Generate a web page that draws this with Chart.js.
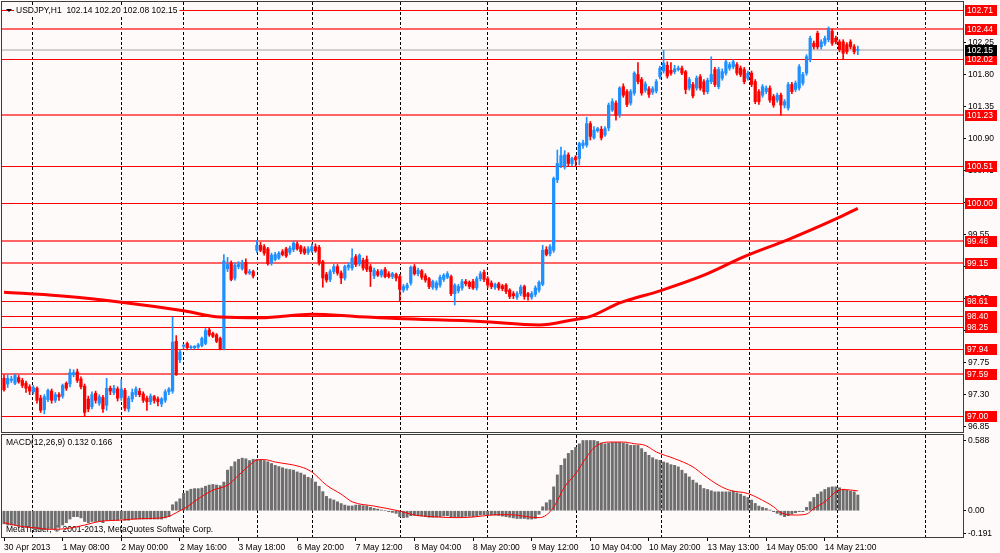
<!DOCTYPE html>
<html>
<head>
<meta charset="utf-8">
<title>USDJPY,H1</title>
<script src="https://cdn.jsdelivr.net/npm/chart.js@4.4.1/dist/chart.umd.min.js"></script>
<style>
  html, body { margin: 0; padding: 0; background: #fffafa; }
  #wrap { position: relative; width: 1000px; height: 553px; overflow: hidden; background: #fffafa; }
  canvas { position: absolute; left: 0; }
  #main { top: 0; }
  #macd { top: 434px; }
</style>
</head>
<body>
<div id="wrap">
  <canvas id="main" width="1000" height="434"></canvas>
  <canvas id="macd" width="1000" height="119"></canvas>
</div>
<script>
// USDJPY H1 bars, 30 Apr 2013 .. 14 May 2013
var opens = [
  97.53,97.45,97.50,97.46,97.54,97.50,97.46,97.41,97.34,97.39,
  97.25,97.09,97.23,97.35,97.22,97.30,97.28,97.46,97.45,97.58,
  97.62,97.52,97.42,97.24,97.13,97.32,97.18,97.26,97.15,97.39,
  97.33,97.38,97.26,97.36,97.10,97.24,97.30,97.35,97.31,97.25,
  97.20,97.27,97.24,97.17,97.22,97.34,97.35,98.05,97.79,97.98,
  98.02,97.96,97.96,97.97,97.99,98.02,98.21,98.16,98.14,98.09,
  97.95,99.07,99.15,98.94,99.10,99.07,99.16,99.01,99.03,99.33,
  99.40,99.38,99.35,99.15,99.20,99.22,99.31,99.35,99.30,99.34,
  99.42,99.38,99.35,99.30,99.32,99.38,99.37,99.17,98.99,98.92,
  99.03,99.10,99.01,98.94,99.09,99.08,99.24,99.14,99.19,99.20,
  99.10,98.97,99.03,98.98,99.06,99.00,98.96,98.99,98.96,98.77,
  98.80,98.87,99.10,99.00,99.04,98.97,98.93,98.81,98.80,98.84,
  98.92,98.95,98.96,98.72,98.76,98.80,98.89,98.88,98.89,98.80,
  98.93,99.02,98.93,98.87,98.81,98.86,98.83,98.84,98.77,98.72,
  98.67,98.72,98.82,98.72,98.67,98.71,98.77,98.85,99.34,99.28,
  99.33,100.32,100.52,100.50,100.67,100.55,100.64,100.62,100.80,100.81,
  101.11,100.91,101.01,101.03,100.95,101.05,101.30,101.40,101.24,101.63,
  101.56,101.40,101.54,101.80,101.73,101.58,101.60,101.55,101.57,101.77,
  101.85,101.93,101.86,101.84,101.87,101.89,101.84,101.61,101.66,101.61,
  101.77,101.70,101.56,101.70,101.87,101.63,101.75,101.82,101.89,101.91,
  101.94,101.89,101.87,101.75,101.82,101.70,101.56,101.51,101.56,101.61,
  101.49,101.44,101.51,101.37,101.33,101.66,101.59,101.61,101.68,101.82,
  102.01,102.24,102.38,102.19,102.24,102.29,102.41,102.31,102.26,102.26,
  102.22,102.26,102.19,102.14
];
var highs = [
  97.58,97.58,97.56,97.59,97.57,97.53,97.49,97.44,97.43,97.41,
  97.29,97.30,97.38,97.38,97.33,97.33,97.45,97.48,97.66,97.65,
  97.66,97.55,97.45,97.28,97.34,97.35,97.30,97.29,97.53,97.42,
  97.43,97.41,97.51,97.39,97.28,97.38,97.41,97.39,97.34,97.28,
  97.31,97.29,97.27,97.26,97.37,97.40,98.39,98.13,97.93,98.01,
  98.04,97.99,97.99,98.02,98.11,98.23,98.24,98.18,98.16,98.11,
  99.27,99.23,99.18,99.15,99.17,99.19,99.21,99.06,99.05,99.47,
  99.44,99.41,99.37,99.29,99.30,99.31,99.34,99.37,99.39,99.46,
  99.45,99.40,99.38,99.38,99.42,99.42,99.40,99.19,99.02,99.06,
  99.13,99.13,99.04,99.12,99.15,99.35,99.27,99.28,99.22,99.25,
  99.13,99.08,99.06,99.06,99.09,99.03,99.02,99.01,98.99,98.85,
  98.87,99.11,99.13,99.08,99.06,99.00,98.95,98.91,98.90,98.98,
  99.00,99.03,98.98,98.86,98.85,98.92,98.92,98.90,98.92,98.96,
  99.03,99.05,98.96,98.90,98.87,98.88,98.85,98.86,98.79,98.75,
  98.75,98.84,98.84,98.74,98.75,98.83,98.90,99.40,99.38,99.41,
  100.36,100.74,100.78,100.73,100.70,100.64,100.66,100.85,100.88,101.20,
  101.14,101.07,101.06,101.07,101.07,101.40,101.46,101.43,101.63,101.67,
  101.59,101.59,101.84,101.97,101.76,101.70,101.63,101.63,101.73,101.92,
  102.14,101.98,101.97,101.93,101.92,101.92,101.86,101.76,101.69,101.78,
  101.80,101.73,101.75,102.05,101.90,101.90,101.88,102.00,101.97,102.01,
  101.97,101.92,101.90,101.85,101.85,101.73,101.59,101.66,101.64,101.64,
  101.52,101.54,101.54,101.45,101.69,101.69,101.71,101.94,101.83,102.08,
  102.34,102.27,102.41,102.29,102.34,102.47,102.44,102.34,102.29,102.29,
  102.25,102.29,102.22,102.20
];
var lows = [
  97.35,97.40,97.47,97.44,97.46,97.40,97.33,97.30,97.31,97.18,
  97.05,97.03,97.20,97.18,97.19,97.22,97.25,97.36,97.41,97.55,
  97.47,97.38,96.99,97.06,97.10,97.18,97.15,97.05,97.08,97.30,
  97.30,97.21,97.22,97.07,97.06,97.20,97.27,97.27,97.19,97.08,
  97.16,97.18,97.14,97.13,97.19,97.30,97.32,97.57,97.75,97.95,
  97.93,97.94,97.94,97.95,97.97,98.00,98.12,98.10,98.03,97.93,
  97.93,99.03,98.90,98.91,99.07,99.05,98.99,98.99,98.94,99.30,
  99.31,99.26,99.12,99.12,99.18,99.20,99.25,99.23,99.27,99.31,
  99.33,99.28,99.27,99.27,99.30,99.30,99.12,98.81,98.88,98.89,
  99.00,98.98,98.86,98.91,99.05,99.05,99.10,99.11,99.05,99.03,
  98.82,98.93,98.96,98.95,98.94,98.94,98.93,98.90,98.61,98.74,
  98.77,98.84,98.98,98.97,98.92,98.88,98.79,98.78,98.77,98.81,
  98.89,98.93,98.69,98.56,98.73,98.77,98.83,98.79,98.78,98.77,
  98.90,98.89,98.80,98.79,98.78,98.77,98.76,98.72,98.65,98.65,
  98.64,98.69,98.64,98.63,98.64,98.68,98.74,98.83,99.25,99.25,
  99.30,100.28,100.49,100.47,100.51,100.52,100.51,100.53,100.76,100.78,
  100.88,100.89,100.99,100.88,100.93,101.01,101.28,101.16,101.20,101.48,
  101.35,101.37,101.51,101.67,101.51,101.55,101.48,101.52,101.54,101.74,
  101.82,101.75,101.79,101.81,101.85,101.80,101.53,101.58,101.47,101.58,
  101.58,101.52,101.53,101.67,101.63,101.60,101.72,101.79,101.86,101.88,
  101.79,101.77,101.67,101.72,101.63,101.39,101.38,101.48,101.53,101.41,
  101.34,101.41,101.23,101.33,101.30,101.53,101.56,101.58,101.65,101.79,
  101.98,102.16,102.16,102.16,102.21,102.26,102.21,102.23,102.12,102.02,
  102.09,102.16,102.09,102.08
];
var closes = [
  97.37,97.53,97.52,97.57,97.48,97.43,97.39,97.35,97.40,97.22,
  97.08,97.27,97.36,97.22,97.30,97.27,97.43,97.39,97.61,97.61,
  97.50,97.41,97.05,97.10,97.30,97.22,97.27,97.10,97.39,97.35,
  97.39,97.25,97.38,97.11,97.25,97.33,97.38,97.30,97.22,97.20,
  97.28,97.22,97.20,97.24,97.34,97.38,98.04,97.58,97.90,97.99,
  97.96,97.97,97.98,98.00,98.09,98.20,98.14,98.12,98.05,97.94,
  99.18,99.13,98.92,99.12,99.13,99.15,99.01,99.03,98.97,99.40,
  99.33,99.29,99.14,99.26,99.27,99.29,99.27,99.25,99.36,99.43,
  99.35,99.31,99.29,99.35,99.38,99.32,99.15,98.94,98.91,99.03,
  99.10,99.01,98.94,99.10,99.12,99.22,99.13,99.26,99.08,99.06,
  99.03,99.05,98.98,99.04,98.96,98.96,99.00,98.94,98.78,98.82,
  98.84,99.09,99.00,99.05,98.95,98.91,98.82,98.89,98.87,98.95,
  98.98,99.00,98.72,98.84,98.82,98.89,98.86,98.82,98.80,98.93,
  99.00,98.92,98.84,98.82,98.85,98.80,98.79,98.75,98.68,98.69,
  98.72,98.81,98.68,98.68,98.72,98.80,98.88,99.33,99.27,99.38,
  100.34,100.55,100.66,100.67,100.55,100.62,100.60,100.83,100.84,101.11,
  100.93,101.02,101.04,100.91,101.04,101.37,101.42,101.23,101.61,101.51,
  101.38,101.56,101.82,101.70,101.54,101.67,101.52,101.60,101.70,101.89,
  101.96,101.78,101.82,101.88,101.89,101.82,101.59,101.73,101.50,101.75,
  101.61,101.56,101.72,101.80,101.66,101.87,101.84,101.98,101.94,101.98,
  101.82,101.80,101.70,101.82,101.66,101.42,101.42,101.63,101.61,101.44,
  101.37,101.51,101.37,101.42,101.66,101.56,101.68,101.91,101.80,102.05,
  102.31,102.19,102.19,102.26,102.31,102.45,102.24,102.26,102.15,102.10,
  102.12,102.19,102.12,102.15
];

// moving average (thick red line), read at a few bars
var maIdx  = [0, 15, 32, 49, 59, 70, 84, 96, 107, 130, 146, 155, 160, 168, 179, 191, 202, 214, 227, 233];
var maVals = [98.74, 98.69, 98.60, 98.48, 98.39, 98.38, 98.43, 98.40, 98.37, 98.33, 98.28, 98.35, 98.40, 98.59, 98.76, 98.98, 99.24, 99.48, 99.77, 99.92];

// MACD(12,26,9) histogram, one value per bar
var macdHist = [
  -0.11,-0.12,-0.12,-0.12,-0.13,-0.13,-0.14,-0.14,-0.15,-0.15,
  -0.16,-0.16,-0.15,-0.15,-0.15,-0.14,-0.12,-0.10,-0.07,-0.05,
  -0.05,-0.06,-0.09,-0.10,-0.09,-0.09,-0.09,-0.10,-0.08,-0.08,
  -0.08,-0.08,-0.07,-0.08,-0.08,-0.07,-0.07,-0.07,-0.07,-0.07,
  -0.07,-0.07,-0.07,-0.07,-0.06,-0.05,0.05,0.075,0.10,0.145,
  0.165,0.18,0.185,0.185,0.19,0.205,0.215,0.22,0.215,0.21,
  0.24,0.34,0.37,0.41,0.43,0.44,0.435,0.42,0.43,0.43,
  0.43,0.42,0.41,0.395,0.38,0.37,0.36,0.35,0.345,0.34,
  0.325,0.315,0.30,0.28,0.27,0.24,0.205,0.16,0.12,0.10,
  0.09,0.075,0.06,0.047,0.04,0.04,0.047,0.047,0.042,0.04,
  0.028,0.02,0.014,0.006,0.0,-0.008,-0.014,-0.022,-0.05,-0.058,
  -0.055,-0.042,-0.039,-0.042,-0.044,-0.05,-0.055,-0.055,-0.053,-0.05,
  -0.044,-0.042,-0.05,-0.055,-0.053,-0.05,-0.047,-0.047,-0.05,-0.044,
  -0.036,-0.033,-0.033,-0.036,-0.036,-0.04,-0.045,-0.05,-0.055,-0.06,
  -0.065,-0.065,-0.065,-0.07,-0.07,-0.065,-0.03,0.033,0.067,0.09,
  0.20,0.30,0.38,0.435,0.48,0.505,0.53,0.56,0.588,0.588,
  0.588,0.588,0.58,0.567,0.56,0.567,0.572,0.572,0.572,0.567,
  0.56,0.547,0.547,0.547,0.52,0.49,0.464,0.444,0.428,0.422,
  0.408,0.40,0.386,0.38,0.367,0.339,0.311,0.283,0.256,0.233,
  0.214,0.186,0.178,0.167,0.158,0.158,0.158,0.158,0.158,0.164,
  0.15,0.139,0.122,0.111,0.089,0.061,0.039,0.028,0.019,0.006,
  -0.008,-0.022,-0.036,-0.05,-0.042,-0.028,-0.017,-0.008,-0.008,0.028,
  0.075,0.111,0.139,0.158,0.178,0.194,0.20,0.20,0.192,0.18,
  0.172,0.164,0.158,0.132
];
// signal line, read at a few bars
var sigIdx  = [0, 4, 8, 13, 17, 22, 26, 32, 37, 44, 48, 50, 53, 57, 61, 64, 67, 69, 71, 74, 81, 84, 88, 92, 95, 101, 108, 112, 117, 123, 128, 133, 138, 144, 146, 148, 150, 153, 156, 159, 161, 165, 169, 172, 175, 178, 183, 188, 191, 195, 198, 203, 206, 210, 212, 216, 219, 221, 224, 227, 229, 233];
var sigVals = [-0.10, -0.128, -0.142, -0.156, -0.15, -0.12, -0.09, -0.078, -0.067, -0.056, 0.0, 0.033, 0.10, 0.172, 0.214, 0.297, 0.381, 0.425, 0.428, 0.408, 0.367, 0.325, 0.214, 0.139, 0.075, 0.039, -0.003, -0.036, -0.05, -0.058, -0.053, -0.036, -0.033, -0.055, -0.058, -0.036, 0.03, 0.2, 0.311, 0.45, 0.528, 0.575, 0.575, 0.561, 0.547, 0.492, 0.436, 0.367, 0.297, 0.214, 0.172, 0.144, 0.103, 0.033, -0.017, -0.036, -0.028, 0.019, 0.075, 0.158, 0.178, 0.166];

// horizontal price levels drawn on the chart
var levels     = [102.71, 102.44, 102.02, 101.23, 100.51, 100.00, 99.46, 99.15, 98.61, 98.40, 98.25, 97.94, 97.59, 97.00];
var levelThick = [0, 1, 0, 1, 0, 0, 1, 1, 0, 0, 0, 0, 1, 0];
var bidPrice = 102.15;

var priceTicks = [96.85, 97.30, 97.75, 98.20, 98.65, 99.10, 99.55, 100.00, 100.45, 100.90, 101.35, 101.80, 102.25];
var macdTicks = [-0.191, 0, 0.588];
var timeIdx = [0, 16, 32, 48, 64, 80, 96, 112, 128, 144, 160, 176, 192, 208, 224];
var timeLabels = ['30 Apr 2013', '1 May 08:00', '2 May 00:00', '2 May 16:00', '3 May 18:00', '6 May 20:00',
  '7 May 12:00', '8 May 04:00', '8 May 20:00', '9 May 12:00', '10 May 04:00', '10 May 20:00',
  '13 May 13:00', '14 May 05:00', '14 May 21:00'];
var gridIdx = [7.6, 31.9, 48.8, 69, 84, 108, 131.8, 156.1, 179.3, 203.3, 227.3, 251.3];

var FONT = "'Liberation Sans', Arial, sans-serif";
var FS = 8.5;
var BULL = '#1e90ff', BEAR = '#ff0000', BG = '#fffafa';
var X_MIN = -0.546, X_MAX = 261.7;

Chart.defaults.font.family = FONT;
Chart.defaults.font.size = FS;
Chart.defaults.color = '#000';

var last = closes.length - 1;
var candleColors = closes.map(function (c, i) { return c >= opens[i] ? BULL : BEAR; });
var bodies = opens.map(function (o, i) { return { x: i, y: [o, closes[i]] }; });
var wicks = lows.map(function (l, i) { return { x: i, y: [l, highs[i]] }; });

function noPad(s) {
  s.paddingTop = 0; s.paddingBottom = 0; s.paddingLeft = 0; s.paddingRight = 0;
}

function dashedGrid(chart) {
  var ctx = chart.ctx, a = chart.chartArea, x = chart.scales.x;
  ctx.save();
  ctx.strokeStyle = '#000';
  ctx.lineWidth = 1;
  ctx.setLineDash([3, 2]);
  gridIdx.forEach(function (i) {
    var px = Math.round(x.getPixelForValue(i)) + 0.5;
    ctx.beginPath();
    ctx.moveTo(px, a.top);
    ctx.lineTo(px, a.bottom);
    ctx.stroke();
  });
  ctx.restore();
}

function frame(chart) {
  var ctx = chart.ctx, a = chart.chartArea;
  ctx.save();
  ctx.strokeStyle = '#3c3c3c';
  ctx.lineWidth = 1;
  ctx.strokeRect(a.left - 0.5, a.top - 0.5, a.right - a.left + 1, a.bottom - a.top + 1);
  ctx.restore();
}

function priceBox(ctx, x0, yc, text, color) {
  ctx.fillStyle = color;
  ctx.fillRect(x0, Math.round(yc) - 5, 32, 11);
  ctx.fillStyle = '#fff';
  ctx.fillText(text, x0 + 2, Math.round(yc) + 0.5);
}

var mainDecor = {
  id: 'mainDecor',
  beforeDatasetsDraw: function (chart) {
    var ctx = chart.ctx, a = chart.chartArea, y = chart.scales.y;
    dashedGrid(chart);
    ctx.save();
    var yb = Math.round(y.getPixelForValue(bidPrice));
    ctx.strokeStyle = '#cfcfcf';
    ctx.lineWidth = 2;
    ctx.beginPath(); ctx.moveTo(a.left, yb); ctx.lineTo(a.right, yb); ctx.stroke();
    levels.forEach(function (v, k) {
      var py = Math.round(y.getPixelForValue(v)) + (levelThick[k] ? 0 : 0.5);
      ctx.strokeStyle = levelThick[k] ? '#ff6464' : '#ff0000';
      ctx.lineWidth = levelThick[k] ? 2 : 1;
      ctx.beginPath(); ctx.moveTo(a.left, py); ctx.lineTo(a.right, py); ctx.stroke();
    });
    ctx.restore();
  },
  afterDraw: function (chart) {
    var ctx = chart.ctx, a = chart.chartArea, y = chart.scales.y;
    frame(chart);
    ctx.save();
    ctx.font = FS + 'px ' + FONT;
    ctx.textBaseline = 'middle';
    ctx.textAlign = 'left';
    levels.forEach(function (v) {
      priceBox(ctx, a.right + 2, y.getPixelForValue(v), v.toFixed(2), '#ff0000');
    });
    priceBox(ctx, a.right + 2, y.getPixelForValue(bidPrice), bidPrice.toFixed(2), '#000');

    // symbol caption
    var caption = 'USDJPY,H1  ' + [opens[last], highs[last], lows[last], closes[last]].map(function (v) { return v.toFixed(2); }).join(' ');
    var w = ctx.measureText(caption).width;
    ctx.fillStyle = BG;
    ctx.fillRect(14, 5, w + 4, 11);
    ctx.fillStyle = '#000';
    ctx.beginPath();
    ctx.moveTo(6, 9); ctx.lineTo(12, 9); ctx.lineTo(9, 12); ctx.closePath();
    ctx.fill();
    ctx.fillText(caption, 16, 10.5);
    ctx.restore();
  }
};

var macdDecor = {
  id: 'macdDecor',
  beforeDatasetsDraw: function (chart) {
    var ctx = chart.ctx;
    dashedGrid(chart);
    ctx.save();
    ctx.font = FS + 'px ' + FONT;
    ctx.fillStyle = '#000';
    ctx.textBaseline = 'middle';
    ctx.textAlign = 'left';
    ctx.fillText('MACD(12,26,9) ' + macdHist[last].toFixed(3) + ' ' + sigVals[sigVals.length - 1].toFixed(3), 6, 9);
    ctx.fillText('MetaTrader, \u00a9 2001-2013, MetaQuotes Software Corp.', 6, 96);
    ctx.restore();
  },
  afterDraw: function (chart) {
    frame(chart);
  }
};

new Chart(document.getElementById('main'), {
  type: 'bar',
  data: {
    datasets: [
      {
        type: 'line',
        data: maIdx.map(function (v, k) { return { x: v, y: maVals[k] }; }),
        borderColor: '#ff0000',
        borderWidth: 3,
        pointRadius: 0,
        cubicInterpolationMode: 'monotone',
        order: 0
      },
      {
        type: 'bar',
        data: bodies,
        backgroundColor: candleColors,
        barThickness: 2.6,
        minBarLength: 1,
        grouped: false,
        order: 1
      },
      {
        type: 'bar',
        data: wicks,
        backgroundColor: candleColors,
        barThickness: 1,
        grouped: false,
        order: 2
      }
    ]
  },
  options: {
    responsive: false,
    animation: false,
    events: [],
    layout: { padding: { left: 2, top: 2, right: 0, bottom: 2 } },
    plugins: { legend: { display: false }, tooltip: { enabled: false } },
    scales: {
      x: {
        type: 'linear', min: X_MIN, max: X_MAX, offset: false, display: false,
        afterFit: noPad
      },
      y: {
        type: 'linear', position: 'right', min: 96.775, max: 102.82, beginAtZero: false,
        afterBuildTicks: function (s) { s.ticks = priceTicks.map(function (v) { return { value: v }; }); },
        ticks: { padding: 2, color: '#000', font: { size: FS }, callback: function (v) { return Number(v).toFixed(2); } },
        grid: { drawOnChartArea: false, tickLength: 3, color: '#000' },
        border: { display: false },
        afterFit: function (s) { s.width = 37; noPad(s); }
      }
    }
  },
  plugins: [mainDecor]
});

new Chart(document.getElementById('macd'), {
  type: 'bar',
  data: {
    datasets: [
      {
        type: 'line',
        data: sigIdx.map(function (v, k) { return { x: v, y: sigVals[k] }; }),
        borderColor: '#ff0000',
        borderWidth: 1,
        pointRadius: 0,
        cubicInterpolationMode: 'monotone',
        order: 0
      },
      {
        type: 'bar',
        data: macdHist.map(function (v, i) { return { x: i, y: v }; }),
        backgroundColor: '#6e6e6e',
        barThickness: 2.3,
        grouped: false,
        order: 1
      }
    ]
  },
  options: {
    responsive: false,
    animation: false,
    events: [],
    layout: { padding: { left: 2, top: 1, right: 0, bottom: 0 } },
    plugins: { legend: { display: false }, tooltip: { enabled: false } },
    scales: {
      x: {
        type: 'linear', position: 'bottom', min: X_MIN, max: X_MAX, offset: false,
        afterBuildTicks: function (s) { s.ticks = timeIdx.map(function (v) { return { value: v }; }); },
        ticks: {
          autoSkip: false, maxRotation: 0, minRotation: 0, align: 'start', padding: 2,
          color: '#000', font: { size: FS },
          callback: function (v, k) { return timeLabels[k]; }
        },
        grid: { drawOnChartArea: false, offset: false, tickLength: 4, color: '#000' },
        border: { display: false },
        afterFit: function (s) { s.height = 16; noPad(s); }
      },
      y: {
        type: 'linear', position: 'right', min: -0.22, max: 0.634, beginAtZero: false,
        afterBuildTicks: function (s) { s.ticks = macdTicks.map(function (v) { return { value: v }; }); },
        ticks: { padding: 2, color: '#000', font: { size: FS }, callback: function (v) { return v === 0 ? '0.00' : String(v); } },
        grid: { drawOnChartArea: false, tickLength: 3, color: '#000' },
        border: { display: false },
        afterFit: function (s) { s.width = 37; noPad(s); }
      }
    }
  },
  plugins: [macdDecor]
});
</script>
</body>
</html>
